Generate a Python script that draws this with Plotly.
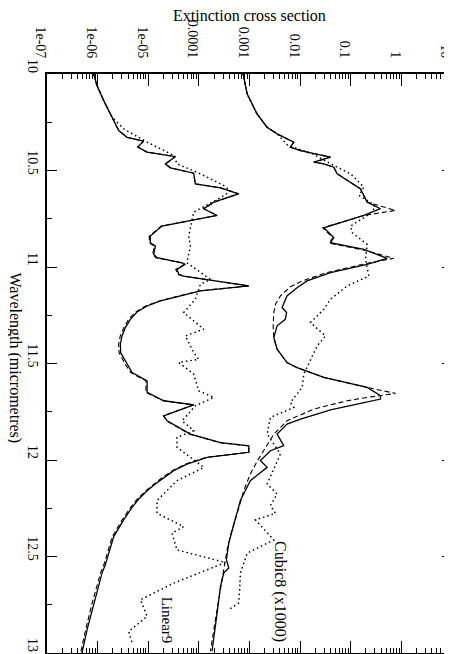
import plotly.graph_objects as go

# ---------------- data ----------------
# Wavelength (micrometres) and extinction cross section for each curve
lin9_solid_wl = [10.000, 10.060, 10.138, 10.224, 10.293, 10.328, 10.348, 10.379, 10.405, 10.428,
                 10.466, 10.486, 10.514, 10.569, 10.590, 10.621, 10.664, 10.698, 10.733, 10.788,
                 10.840, 10.874, 10.891, 10.934, 10.952, 10.978, 10.986, 11.012, 11.038, 11.047,
                 11.098, 11.124, 11.141, 11.159, 11.176, 11.202, 11.233, 11.271, 11.314, 11.357,
                 11.400, 11.443, 11.503, 11.547, 11.590, 11.650, 11.693, 11.714, 11.771, 11.797,
                 11.866, 11.910, 11.927, 11.960, 11.986, 12.021, 12.055, 12.090, 12.124, 12.159,
                 12.202, 12.245, 12.310, 12.397, 12.517, 12.543, 12.586, 12.741, 12.879, 13.000]
lin9_solid_val = [8.4e-7, 9.7e-7, 1.32e-6, 1.93e-6, 2.61e-6, 3.81e-6, 8.1e-6, 6.2e-6, 9.5e-6, 3.44e-5,
                  2.18e-5, 2.74e-5, 7.9e-5, 8.5e-5, 2.67e-4, 6.1e-4, 1.97e-4, 1.25e-4, 2.29e-4, 1.87e-5,
                  1.10e-5, 1.10e-5, 1.38e-5, 1.28e-5, 1.49e-5, 4.66e-5, 5.4e-5, 3.7e-5, 4.0e-5, 5.0e-5,
                  9.7e-4, 1.07e-4, 5.8e-5, 3.18e-5, 1.74e-5, 9.5e-6, 6.0e-6, 4.43e-6, 3.53e-6, 3.03e-6,
                  2.81e-6, 2.85e-6, 3.81e-6, 4.8e-6, 9.5e-6, 9.5e-6, 2.02e-5, 7.9e-5, 2.02e-5, 2.36e-5,
                  6.8e-5, 2.67e-4, 9.7e-4, 9.7e-4, 1.45e-4, 5.8e-5, 3.18e-5, 2.02e-5, 1.38e-5, 9.5e-6,
                  6.5e-6, 4.8e-6, 3.27e-6, 2.08e-6, 1.53e-6, 1.42e-6, 1.22e-6, 8.4e-7, 6.2e-7, 4.9e-7]

lin9_dash_wl = [10.000, 10.060, 10.138, 10.224, 10.293, 10.328, 10.348, 10.379, 10.405, 10.428,
                10.466, 10.486, 10.514, 10.569, 10.590, 10.621, 10.664, 10.698, 10.733, 10.788,
                10.840, 10.874, 10.891, 10.934, 10.952, 10.978, 10.986, 11.012, 11.038, 11.047,
                11.098, 11.124, 11.141, 11.159, 11.176, 11.202, 11.233, 11.271, 11.314, 11.357,
                11.400, 11.443, 11.503, 11.547, 11.590, 11.650, 11.693, 11.714, 11.771, 11.797,
                11.866, 11.910, 11.927, 11.960, 11.986, 12.021, 12.055, 12.090, 12.124, 12.159,
                12.202, 12.245, 12.310, 12.397, 12.517, 12.543, 12.586, 12.741, 12.879, 13.000]
lin9_dash_val = [8.4e-7, 9.7e-7, 1.32e-6, 1.93e-6, 2.61e-6, 3.81e-6, 8.1e-6, 6.2e-6, 9.5e-6, 3.44e-5,
                 2.18e-5, 2.74e-5, 7.9e-5, 8.5e-5, 2.67e-4, 6.1e-4, 1.97e-4, 1.25e-4, 2.29e-4, 1.80e-5,
                 1.05e-5, 1.05e-5, 1.32e-5, 1.22e-5, 1.42e-5, 4.5e-5, 5.2e-5, 3.5e-5, 3.8e-5, 4.8e-5,
                 9.7e-4, 1.02e-4, 5.5e-5, 3.0e-5, 1.65e-5, 8.9e-6, 5.6e-6, 4.1e-6, 3.3e-6, 2.8e-6,
                 2.6e-6, 2.65e-6, 3.5e-6, 4.5e-6, 9.0e-6, 9.0e-6, 2.0e-5, 7.9e-5, 2.0e-5, 2.3e-5,
                 6.6e-5, 2.6e-4, 9.7e-4, 9.7e-4, 1.4e-4, 5.5e-5, 3.0e-5, 1.9e-5, 1.3e-5, 9.0e-6,
                 6.1e-6, 4.5e-6, 3.05e-6, 1.95e-6, 1.42e-6, 1.33e-6, 1.14e-6, 7.8e-7, 5.8e-7, 4.6e-7]

lin9_dot_wl = [10.000, 10.060, 10.138, 10.224, 10.284, 10.353, 10.422, 10.466, 10.509, 10.578,
               10.607, 10.641, 10.716, 10.788, 10.840, 10.891, 10.978, 11.064, 11.090, 11.167,
               11.236, 11.322, 11.357, 11.443, 11.478, 11.495, 11.555, 11.641, 11.676, 11.719,
               11.797, 11.848, 11.883, 11.934, 11.986, 12.038, 12.107, 12.210, 12.276, 12.345,
               12.379, 12.466, 12.531, 12.638, 12.724, 12.810, 12.888, 12.948]
lin9_dot_val = [8.4e-7, 9.7e-7, 1.32e-6, 1.93e-6, 3.27e-6, 9.5e-6, 3.18e-5, 3.7e-5, 9.2e-5, 3.10e-4,
                4.2e-4, 2.67e-4, 7.9e-5, 6.8e-5, 6.3e-5, 6.8e-5, 5.8e-5, 1.69e-4, 1.07e-4, 8.5e-5,
                5.0e-5, 1.25e-4, 5.4e-5, 7.9e-5, 9.9e-5, 4.0e-5, 7.9e-5, 9.9e-5, 1.97e-4, 8.5e-5,
                4.66e-5, 7.9e-5, 3.7e-5, 3.7e-5, 6.8e-5, 1.25e-4, 3.7e-5, 1.49e-5, 1.49e-5, 5.0e-5,
                2.95e-5, 3.7e-5, 3.34e-4, 3.18e-5, 7.0e-6, 9.5e-6, 4.11e-6, 4.8e-6]

cub8_solid_wl = [10.000, 10.103, 10.207, 10.276, 10.310, 10.336, 10.353, 10.379, 10.397, 10.431,
                 10.457, 10.466, 10.483, 10.517, 10.595, 10.629, 10.664, 10.698, 10.733, 10.797,
                 10.848, 10.874, 10.909, 10.955, 10.986, 11.029, 11.072, 11.107, 11.150, 11.210,
                 11.236, 11.271, 11.305, 11.366, 11.426, 11.495, 11.521, 11.572, 11.624, 11.667,
                 11.684, 11.707, 11.740, 11.788, 11.814, 11.866, 11.926, 11.952, 12.003, 12.038,
                 12.107, 12.210, 12.328, 12.431, 12.517, 12.560, 12.586, 12.655, 12.793, 12.991]
cub8_solid_val = [7.5e-4, 8.97e-4, 1.41e-3, 2.23e-3, 3.51e-3, 5.5e-3, 7.5e-3, 6.4e-3, 1.02e-2, 3.98e-2,
                  1.86e-2, 2.94e-2, 4.62e-2, 5.4e-2, 0.156, 0.181, 0.211, 0.387, 0.181, 2.94e-2,
                  4.62e-2, 3.98e-2, 0.181, 0.524, 0.211, 3.98e-2, 1.37e-2, 8.7e-3, 5.5e-3, 4.4e-3,
                  5.4e-3, 5.1e-3, 3.51e-3, 3.02e-3, 3.51e-3, 5.5e-3, 8.7e-3, 2.94e-2, 0.211, 0.387,
                  0.387, 0.156, 3.98e-2, 1.02e-2, 5.5e-3, 3.51e-3, 4.75e-3, 2.59e-3, 1.64e-3, 2.23e-3,
                  1.04e-3, 6.6e-4, 4.9e-4, 3.89e-4, 3.5e-4, 3.89e-4, 3.10e-4, 2.67e-4, 2.29e-4, 1.82e-4]

cub8_dash_wl = [10.000, 10.103, 10.207, 10.276, 10.310, 10.336, 10.353, 10.379, 10.397, 10.431,
                10.457, 10.466, 10.483, 10.517, 10.595, 10.629, 10.664, 10.707, 10.733, 10.797,
                10.848, 10.877, 10.912, 10.955, 10.981, 11.029, 11.072, 11.102, 11.150, 11.193,
                11.236, 11.305, 11.366, 11.426, 11.495, 11.521, 11.572, 11.624, 11.655, 11.676,
                11.693, 11.736, 11.797, 11.866, 11.934, 12.003, 12.072, 12.159, 12.245, 12.362,
                12.466, 12.569, 12.672, 12.828, 12.991]
cub8_dash_val = [7.5e-4, 8.97e-4, 1.41e-3, 2.23e-3, 3.51e-3, 5.5e-3, 7.5e-3, 6.4e-3, 1.02e-2, 3.98e-2,
                 1.86e-2, 2.94e-2, 4.62e-2, 5.4e-2, 0.156, 0.181, 0.211, 0.766, 0.181, 2.8e-2,
                 4.4e-2, 3.8e-2, 0.181, 0.71, 0.211, 3.4e-2, 1.1e-2, 6.4e-3, 4.08e-3, 3.26e-3,
                 3.02e-3, 2.93e-3, 3.02e-3, 3.51e-3, 5.5e-3, 8.7e-3, 2.94e-2, 0.211, 0.766, 0.211,
                 8.5e-2, 1.86e-2, 5.5e-3, 3.02e-3, 2.10e-3, 1.44e-3, 1.04e-3, 7.7e-4, 6.2e-4, 4.5e-4,
                 3.6e-4, 3.1e-4, 2.58e-4, 2.12e-4, 1.69e-4]

cub8_dot_wl = [10.000, 10.103, 10.207, 10.276, 10.310, 10.328, 10.366, 10.417, 10.474, 10.517,
               10.586, 10.629, 10.672, 10.690, 10.728, 10.788, 10.822, 10.883, 10.960, 11.047,
               11.098, 11.167, 11.219, 11.288, 11.357, 11.409, 11.478, 11.555, 11.624, 11.702,
               11.728, 11.779, 11.866, 11.969, 12.124, 12.176, 12.236, 12.276, 12.310, 12.414,
               12.483, 12.586, 12.672, 12.741, 12.776]
cub8_dot_val = [7.5e-4, 8.97e-4, 1.41e-3, 2.23e-3, 3.51e-3, 4.08e-3, 5.5e-3, 1.86e-2, 4.62e-2, 9.9e-2,
                0.181, 0.145, 0.265, 0.308, 0.228, 9.9e-2, 0.107, 0.211, 0.195, 0.228,
                8.5e-2, 3.98e-2, 2.94e-2, 1.60e-2, 3.17e-2, 2.17e-2, 1.60e-2, 1.18e-2, 1.10e-2, 6.4e-3,
                7.5e-3, 2.59e-3, 2.23e-3, 4.08e-3, 2.23e-3, 3.51e-3, 2.59e-3, 3.26e-3, 1.31e-3, 3.02e-3,
                8.97e-4, 6.6e-4, 6.4e-4, 6.1e-4, 3.89e-4]

x_tick_vals = [1e-7, 1e-6, 1e-5, 1e-4, 1e-3, 1e-2, 1e-1, 1, 10]
x_tick_text = ["1e-07", "1e-06", "1e-05", "0.0001", "0.001", "0.01", "0.1", "1", "10"]
y_tick_vals = [10, 10.5, 11, 11.5, 12, 12.5, 13]
y_tick_text = ["10", "10.5", "11", "11.5", "12", "12.5", "13"]

# ---------------- figure ----------------
FONT = "Liberation Serif, Times New Roman, serif"
fig = go.Figure()

def add(xv, yv, dash, width):
    fig.add_trace(go.Scatter(x=xv, y=yv, mode="lines",
                             line=dict(color="black", width=width, dash=dash),
                             showlegend=False, hoverinfo="skip"))

add(lin9_dot_val, lin9_dot_wl, "1.5px,3px", 1.5)
add(cub8_dot_val, cub8_dot_wl, "1.5px,3px", 1.5)
add(lin9_dash_val, lin9_dash_wl, "5px,3px", 1.1)
add(cub8_dash_val, cub8_dash_wl, "5px,3px", 1.1)
add(lin9_solid_val, lin9_solid_wl, "solid", 1.3)
add(cub8_solid_val, cub8_solid_wl, "solid", 1.3)

minor_x = [k * 10.0 ** e for e in range(-7, 1) for k in range(2, 10)]

fig.update_xaxes(type="log", range=[-7, 1], side="top", automargin=False,
                 tickmode="array", tickvals=x_tick_vals, ticktext=x_tick_text,
                 tickangle=90, ticks="inside", ticklen=12, tickwidth=1, tickcolor="black",
                 minor=dict(tickmode="array", tickvals=minor_x, ticks="inside", ticklen=5,
                            tickwidth=1, tickcolor="black", showgrid=False),
                 showline=True, linecolor="black", linewidth=1.5, mirror="allticks",
                 showgrid=False, zeroline=False, ticklabelstandoff=9, ticklabelshift=-6,
                 ticklabeloverflow="allow",
                 tickfont=dict(family=FONT, size=14, color="black"))
fig.update_yaxes(range=[13, 10], automargin=False,
                 tickmode="array", tickvals=y_tick_vals, ticktext=y_tick_text,
                 tickangle=90, ticks="inside", ticklen=10, tickwidth=1, tickcolor="black",
                 minor=dict(dtick=0.25, tick0=10, ticks="inside", ticklen=5, tickwidth=1,
                            tickcolor="black", showgrid=False),
                 showline=True, linecolor="black", linewidth=1.5, mirror="allticks",
                 showgrid=False, zeroline=False, ticklabelshift=6,
                 ticklabeloverflow="allow",
                 tickfont=dict(family=FONT, size=14, color="black"))

fig.add_annotation(text="Extinction cross section", xref="paper", yref="paper",
                   x=0.5, y=1, xanchor="center", yanchor="middle", yshift=58.5,
                   showarrow=False, font=dict(family=FONT, size=16, color="black"))
fig.add_annotation(text="Wavelength (micrometres)", xref="paper", yref="paper",
                   x=0, y=0.5, xanchor="center", yanchor="middle", xshift=-32, yshift=6,
                   textangle=90,
                   showarrow=False, font=dict(family=FONT, size=16, color="black"))
fig.add_annotation(text="Cubic8 (x1000)", x=-2.395, y=12.68, xref="x", yref="y",
                   textangle=90, showarrow=False, font=dict(family=FONT, size=16, color="black"))
fig.add_annotation(text="Linear9", x=-4.64, y=12.83, xref="x", yref="y",
                   textangle=90, showarrow=False, font=dict(family=FONT, size=15, color="black"))

fig.update_layout(width=452, height=654, margin=dict(l=39, r=8, t=66, b=9),
                  paper_bgcolor="white", plot_bgcolor="white")

fig.write_html("out.html")
